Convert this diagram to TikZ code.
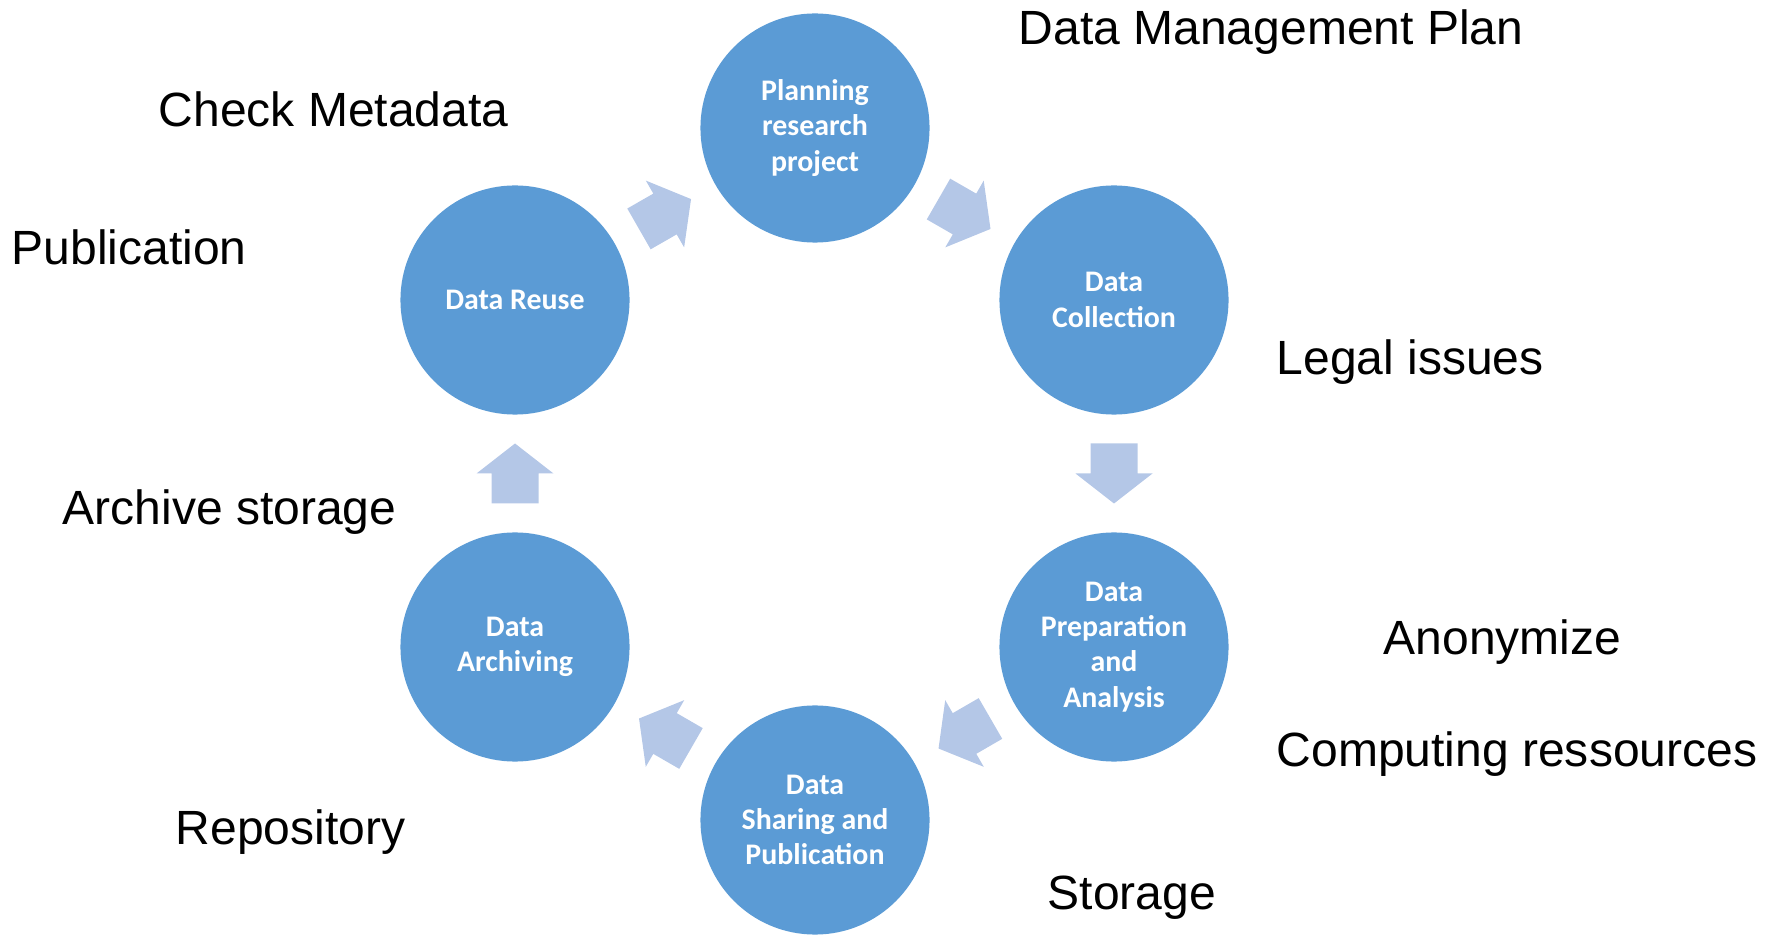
\documentclass[tikz,border=0pt]{standalone}
\usepackage{fontspec}
\setmainfont{Liberation Sans}
\newfontfamily\circlefont{Carlito}
\usepackage{xcolor}
\usepackage{tikz}
\usetikzlibrary{positioning}
\usetikzlibrary{calc}

\begin{document}
\begin{tikzpicture}
    [%%%%%%%%%%%%%%%%%%%%%%%%%%%%%%
        x=0.01cm, y=-0.01cm,
        phase/.style={circle, fill=phaseblue, minimum size=2.29cm, inner sep=0pt, align=center, text=white, font=\circlefont\bfseries\fontsize{8.5}{10}\selectfont},
        note/.style={anchor=base west, inner sep=0pt, font=\fontsize{13.66}{16}\selectfont},
        blockarrow/.pic={\fill[arrowblue] (-30,-23.5) -- (0,-23.5) -- (0,-38.5) -- (30,0) -- (0,38.5) -- (0,23.5) -- (-30,23.5) -- cycle;}
    ]%%%%%%%%%%%%%%%%%%%%%%%%%%%%%%
\definecolor{phaseblue}{HTML}{5B9BD5}
\definecolor{arrowblue}{HTML}{B4C7E7}
\useasboundingbox (0,0) rectangle (1775,937);

\node[phase] (plan) at (815,128) {Planning\\research\\project};
\node[phase] (coll) at (1114,300) {Data\\Collection};
\node[phase] (prep) at (1114,647) {Data\\Preparation\\and\\Analysis};
\node[phase] (share) at (815,820) {Data\\Sharing and\\Publication};
\node[phase] (arch) at (515,647) {Data\\Archiving};
\node[phase] (reuse) at (515,300) {Data Reuse};

\foreach \a/\b in {plan/coll, coll/prep, prep/share, share/arch, arch/reuse, reuse/plan}
    \path (\a) -- pic[midway, sloped, allow upside down]{blockarrow} (\b);

\node[note] (dmp) at (1018,45) {Data Management Plan};
\node[note] (meta) at (158,127) {Check Metadata};
\node[note] (publ) at (11,265) {Publication};
\node[note] (legal) at (1276,375) {Legal issues};
\node[note] (archst) at (62,525) {Archive storage};
\node[note] (anon) at (1383,655) {Anonymize};
\node[note] (comp) at (1276,767) {Computing ressources};
\node[note] (repo) at (175,844) {Repository};
\node[note] (stor) at (1047,909) {Storage};

\end{tikzpicture}
\end{document}
